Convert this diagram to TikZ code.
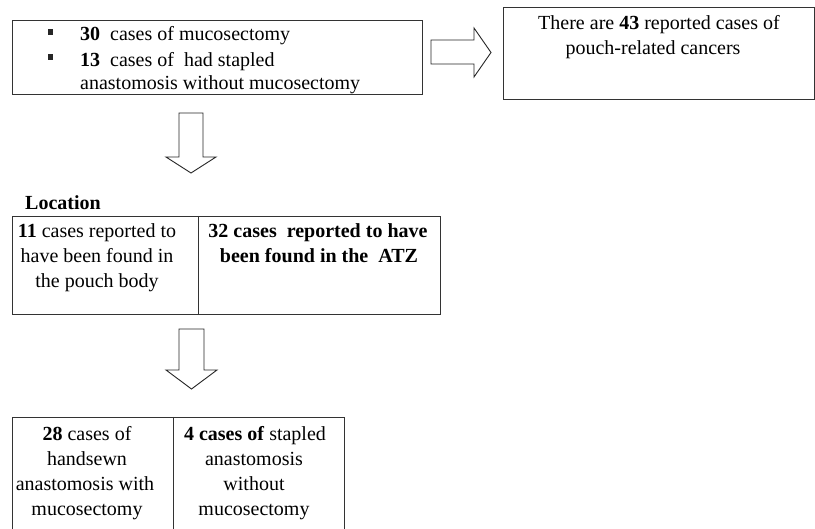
\documentclass[tikz,border=0pt]{standalone}
\usepackage{fontspec}
\setmainfont{Liberation Serif}
\begin{document}
\begin{tikzpicture}[x=1pt,y=-1pt,
  box/.style={draw=black!80,line width=0.9pt,rectangle,inner sep=0pt,anchor=north west},
  txt/.style={font=\fontsize{20}{24}\selectfont,inner sep=0pt,text=black},
  txtl/.style={txt,anchor=base west},
  txtc/.style={txt,anchor=base},
  blockarrow/.style={draw=black!85,line width=0.9pt,fill=white,line join=miter},
  bullet/.style={fill=black!85,draw=none,inner sep=0pt,minimum size=5.5pt,rectangle}]
\clip (0,0) rectangle (815,529);
\fill[white] (0,0) rectangle (815,529);

% top-left box
\node[box,minimum width=410pt,minimum height=74pt] (top) at (12,20.5) {};
\node[bullet] (b1) at (50.5,32) {};
\node[bullet] (b2) at (50.5,57) {};
\node[txtl] (t1) at (80,41) {\textbf{30}\ \ cases of mucosectomy};
\node[txtl] (t2) at (80,67) {\textbf{13}\ \ cases of\ \ had stapled};
\node[txtl] (t3) at (80,90) {anastomosis without mucosectomy};

% right box
\node[box,minimum width=311pt,minimum height=92pt] (rbox) at (503,7) {};
\node[txtc] (r1) at (659,30) {There are \textbf{43} reported cases of};
\node[txtc] (r2) at (653,55) {pouch-related cancers};

% right block arrow
\draw[blockarrow] (431,40) -- (474,40) -- (474,28) -- (491,52.5) -- (474,77) -- (474,64) -- (431,64) -- cycle;

% down arrow 1
\draw[blockarrow] (179,113) -- (203,113) -- (203,157) -- (216,157) -- (191,173) -- (166,157) -- (179,157) -- cycle;

% Location
\node[txtl] (loc) at (25,210) {\textbf{Location}};
\node[box,minimum width=428pt,minimum height=98pt] (lbox) at (12,216) {};
\draw[draw=black!80,line width=0.9pt] (198,216) -- (198,314);
\node[txtc] (l1) at (97,238) {\textbf{11} cases reported to};
\node[txtc] (l2) at (97,263) {have been found in};
\node[txtc] (l3) at (97,288) {the pouch body};
\node[txtc] (m1) at (318,238) {\textbf{32 cases\ \ reported to have}};
\node[txtc] (m2) at (319,263) {\textbf{been found in the\ \ ATZ}};

% down arrow 2
\draw[blockarrow] (179,329) -- (204,329) -- (204,370) -- (217,370) -- (191.5,389) -- (166,370) -- (179,370) -- cycle;

% bottom box
\node[box,minimum width=332pt,minimum height=140pt] (bbox) at (12,417) {};
\draw[draw=black!80,line width=0.9pt] (173,417) -- (173,557);
\node[txtc] (p1) at (87,441) {\textbf{28} cases of};
\node[txtc] (p2) at (87,466) {handsewn};
\node[txtc] (p3) at (85,491) {anastomosis with};
\node[txtc] (p4) at (87,516) {mucosectomy};
\node[txtc] (q1) at (255,441) {\textbf{4 cases of} stapled};
\node[txtc] (q2) at (254,466) {anastomosis};
\node[txtc] (q3) at (254,491) {without};
\node[txtc] (q4) at (254,516) {mucosectomy};
\end{tikzpicture}
\end{document}
